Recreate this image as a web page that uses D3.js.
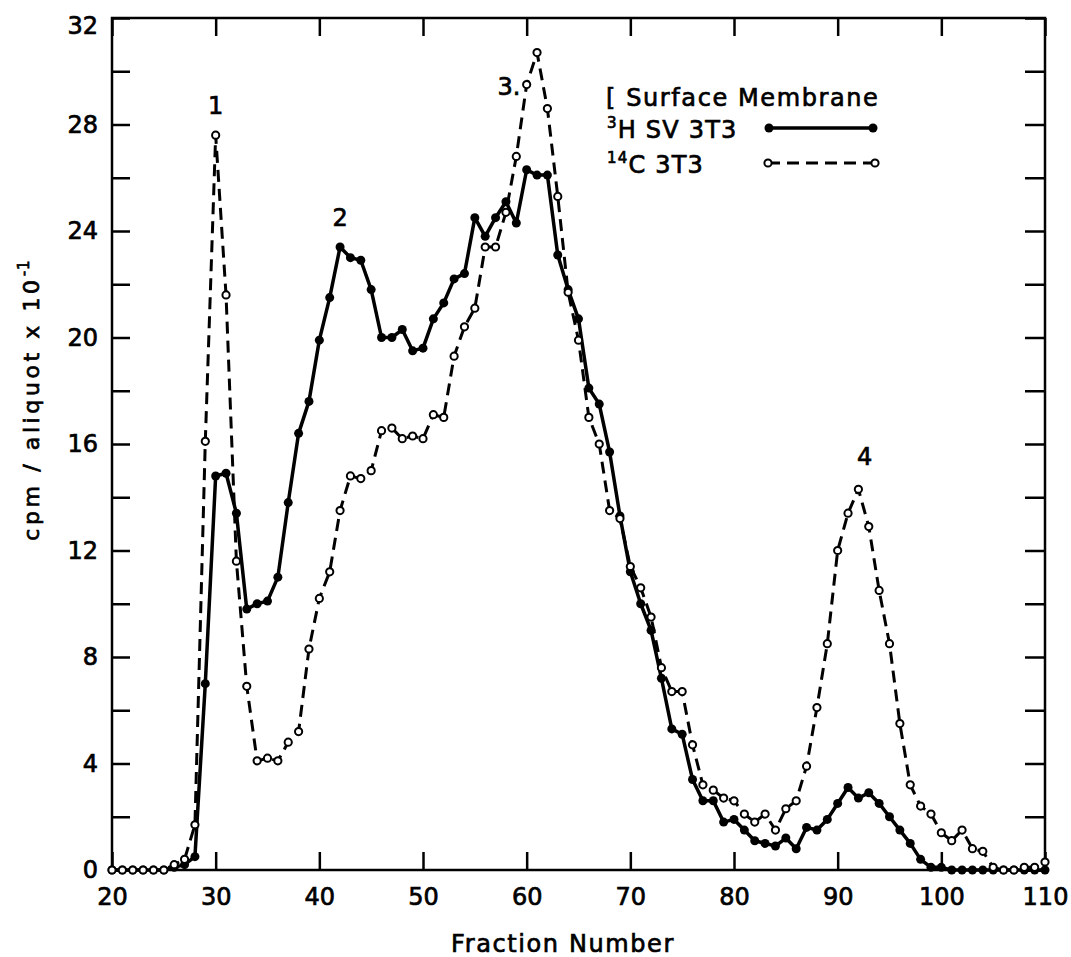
<!DOCTYPE html>
<html><head><meta charset="utf-8">
<script src="https://cdn.jsdelivr.net/npm/d3@7"></script>
<style>
body{margin:0;background:#fff}
svg{display:block}
text{font-family:"DejaVu Sans",sans-serif;fill:#000;stroke:#000;stroke-width:0.7px}
</style>
</head><body>
<svg id="chart" width="1071" height="957"></svg>
<script>
// ---- data ----
const fractions = [20,21,22,23,24,25,26,27,28,29,30,31,32,33,34,35,36,37,38,39,40,41,42,43,44,45,46,47,48,49,50,51,52,53,54,55,56,57,58,59,60,61,62,63,64,65,66,67,68,69,70,71,72,73,74,75,76,77,78,79,80,81,82,83,84,85,86,87,88,89,90,91,92,93,94,95,96,97,98,99,100,101,102,103,104,105,106,107,108,109,110];
// 3H SV 3T3 (filled circles, solid line)
const h3SV3T3 = [0,0,0,0,0,0,0.1,0.2,0.5,7.0,14.8,14.9,13.4,9.8,10.0,10.1,11.0,13.8,16.4,17.6,19.9,21.5,23.4,23.0,22.9,21.8,20.0,20.0,20.3,19.5,19.6,20.7,21.3,22.2,22.4,24.5,23.8,24.5,25.1,24.3,26.3,26.1,26.1,23.1,21.8,20.7,18.1,17.5,15.7,13.3,11.2,10.0,9.0,7.2,5.3,5.1,3.4,2.6,2.6,1.8,1.9,1.5,1.1,1.0,0.9,1.2,0.8,1.6,1.5,1.9,2.5,3.1,2.7,2.9,2.5,2.0,1.5,1.0,0.4,0.1,0.1,0,0,0,0,0,0,0,0,0,0];
// 14C 3T3 (open circles, dashed line)
const c14_3T3 = [0,0,0,0,0,0,0.2,0.4,1.7,16.1,27.6,21.6,11.6,6.9,4.1,4.2,4.1,4.8,5.2,8.3,10.2,11.2,13.5,14.8,14.7,15.0,16.5,16.6,16.2,16.3,16.2,17.1,17.0,19.3,20.4,21.1,23.4,23.4,24.7,26.8,29.5,30.7,28.6,25.3,21.7,19.9,17.0,16.0,13.5,13.2,11.4,10.6,9.5,7.6,6.7,6.7,4.7,3.2,3.0,2.7,2.6,2.1,1.8,2.1,1.5,2.3,2.6,3.9,6.1,8.5,12.0,13.4,14.3,12.9,10.5,8.5,5.5,3.2,2.4,2.1,1.4,1.1,1.5,0.8,0.7,0.1,0,0,0.1,0.1,0.3];
const xTickValues = [20,30,40,50,60,70,80,90,100,110];
const yTickValues = [0,2,4,6,8,10,12,14,16,18,20,22,24,26,28,30,32];
const yLabelValues = [0,4,8,12,16,20,24,28,32];
const peakNames = ["1","2","3.","4"];
const peakFraction = [30,42,58.3,92.6];
const peakLevel = [28.4,24.2,29.1,15.2];

// ---- layout ----
const svg = d3.select("#chart");
const x = d3.scaleLinear().domain([20,110]).range([112,1045]);
const y = d3.scaleLinear().domain([0,32]).range([870,18]);

// frame
svg.append("rect").attr("x",x(20)).attr("y",y(32))
  .attr("width",x(110)-x(20)).attr("height",y(0)-y(32))
  .attr("fill","none").attr("stroke","#000").attr("stroke-width",2.5);

function styleAxis(g){
  g.select(".domain").remove();
  g.selectAll(".tick line").attr("stroke","#000").attr("stroke-width",2.5);
  g.selectAll(".tick text").attr("font-size",24).attr("fill","#000").attr("font-family","DejaVu Sans");
}
// left
svg.append("g").attr("transform",`translate(${x(20)},0)`)
  .call(d3.axisLeft(y).tickValues(yTickValues).tickSize(-18).tickPadding(14)
    .tickFormat(d => yLabelValues.includes(d) ? String(d) : ""))
  .call(styleAxis)
  .call(g => g.selectAll(".tick").filter(d => d===32).select("text").attr("dy","0.65em"));
// right
svg.append("g").attr("transform",`translate(${x(110)},0)`)
  .call(d3.axisRight(y).tickValues(yTickValues).tickSize(-20).tickFormat(""))
  .call(styleAxis);
// bottom
svg.append("g").attr("transform",`translate(0,${y(0)})`)
  .call(d3.axisBottom(x).tickValues(xTickValues).tickSize(-18).tickPadding(18))
  .call(styleAxis);
// top
svg.append("g").attr("transform",`translate(0,${y(32)})`)
  .call(d3.axisTop(x).tickValues(xTickValues).tickSize(-18).tickFormat(""))
  .call(styleAxis);

// axis titles
svg.append("text").attr("x",563).attr("y",952).attr("text-anchor","middle")
  .attr("font-size",24).attr("letter-spacing",1.6).text("Fraction Number");
const yl = svg.append("text").attr("transform","translate(39,400) rotate(-90)")
  .attr("text-anchor","middle").attr("font-size",22).attr("letter-spacing",3.6);
yl.append("tspan").text("cpm / aliquot x 10");
yl.append("tspan").attr("font-size",15).attr("dy",-10).attr("letter-spacing",1).text("-1");

// data
const solidData = fractions.map((f,i)=>({f, v:h3SV3T3[i]}));
const dashData = fractions.map((f,i)=>({f, v:c14_3T3[i]}));
const line = d3.line().x(d=>x(d.f)).y(d=>y(d.v));

svg.append("path").datum(dashData).attr("d",line).attr("fill","none")
  .attr("stroke","#000").attr("stroke-width",3).attr("stroke-dasharray","12,7");
svg.append("path").datum(solidData).attr("d",line).attr("fill","none")
  .attr("stroke","#000").attr("stroke-width",3.5).attr("stroke-linejoin","round");

svg.append("g").selectAll("circle").data(solidData).join("circle")
  .attr("cx",d=>x(d.f)).attr("cy",d=>y(d.v)).attr("r",4.5).attr("fill","#000");
svg.append("g").selectAll("circle").data(dashData).join("circle")
  .attr("cx",d=>x(d.f)).attr("cy",d=>y(d.v)).attr("r",3.6)
  .attr("fill","#fff").attr("stroke","#000").attr("stroke-width",2);

// peak labels
svg.append("g").selectAll("text").data(peakNames).join("text")
  .attr("x",(d,i)=>x(peakFraction[i])).attr("y",(d,i)=>y(peakLevel[i]))
  .attr("text-anchor","middle").attr("font-size",24).text(d=>d);

// legend
const lg = svg.append("g");
lg.append("text").attr("x",606).attr("y",106).attr("font-size",24).attr("letter-spacing",1.6)
  .text("[ Surface Membrane");
const t1 = lg.append("text").attr("x",607).attr("y",138).attr("font-size",24).attr("letter-spacing",1.2);
t1.append("tspan").attr("font-size",15).attr("dy",-10).text("3");
t1.append("tspan").attr("dy",10).text("H SV 3T3");
const t2 = lg.append("text").attr("x",607).attr("y",173).attr("font-size",24).attr("letter-spacing",1.2);
t2.append("tspan").attr("font-size",15).attr("dy",-10).text("14");
t2.append("tspan").attr("dy",10).text("C 3T3");
lg.append("line").attr("x1",769).attr("x2",873).attr("y1",128).attr("y2",128)
  .attr("stroke","#000").attr("stroke-width",3.5);
lg.selectAll("circle.s").data([769,873]).join("circle").attr("class","s")
  .attr("cx",d=>d).attr("cy",128).attr("r",4.5).attr("fill","#000");
lg.append("line").attr("x1",768).attr("x2",875).attr("y1",163).attr("y2",163)
  .attr("stroke","#000").attr("stroke-width",3).attr("stroke-dasharray","12,7");
lg.selectAll("circle.o").data([768,875]).join("circle").attr("class","o")
  .attr("cx",d=>d).attr("cy",163).attr("r",3.6).attr("fill","#fff").attr("stroke","#000").attr("stroke-width",2);
</script>
</body></html>
